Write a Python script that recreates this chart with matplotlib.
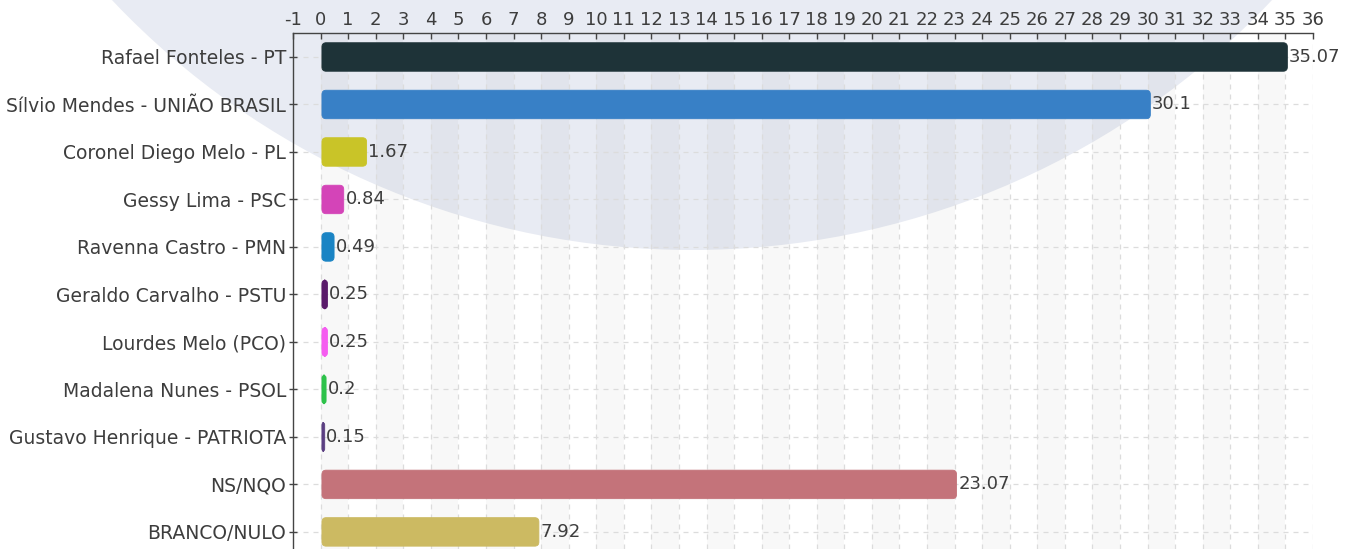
import matplotlib
matplotlib.use("Agg")
import matplotlib.pyplot as plt
from matplotlib.patches import FancyBboxPatch, Circle

categories = ["Rafael Fonteles - PT", "Sílvio Mendes - UNIÃO BRASIL", "Coronel Diego Melo - PL",
              "Gessy Lima - PSC", "Ravenna Castro - PMN", "Geraldo Carvalho - PSTU",
              "Lourdes Melo (PCO)", "Madalena Nunes - PSOL", "Gustavo Henrique - PATRIOTA",
              "NS/NQO", "BRANCO/NULO"]
values = [35.07, 30.1, 1.67, 0.84, 0.49, 0.25, 0.25, 0.2, 0.15, 23.07, 7.92]
value_labels = ["35.07", "30.1", "1.67", "0.84", "0.49", "0.25", "0.25", "0.2", "0.15", "23.07", "7.92"]
colors = ["#1E3338", "#3880C6", "#C9C428", "#D444B8", "#1A84C4", "#5A1A6A",
          "#F55CF0", "#2DC24A", "#5B3F82", "#C4737A", "#CCBA62"]
x_ticks = list(range(-1, 37))

W, H = 1355, 549
fig = plt.figure(figsize=(W / 100, H / 100), dpi=100)
fig.patch.set_facecolor("white")

# decorative background watermark circle
bg = fig.add_axes([0, 0, 1, 1], zorder=0)
bg.set_xlim(0, W)
bg.set_ylim(H, 0)
bg.axis("off")
bg.add_patch(Circle((692, -548), 798, color="#E8EBF3", lw=0))

ax = fig.add_axes([293 / W, 0, (1313 - 293) / W, (H - 33) / H], zorder=1)
ax.set_facecolor("none")

font = "DejaVu Sans"
fw = "normal"
txt_color = "#3d3d3d"
fs_tick = 13
fs_cat = 13.5

y = list(range(len(categories)))
ax.set_xlim(-1, 36)
ax.set_ylim(len(categories) - 1 + 0.36, -0.505)

# alternating vertical bands
for k in range(0, 36, 2):
    ax.axvspan(k, k + 1, color="black", alpha=0.027, lw=0, zorder=0)

# grid lines
for xv in range(0, 37):
    ax.axvline(xv, color="#dcdcdc", lw=0.9, ls=(0, (4, 4)), zorder=0.5)
for yv in y:
    ax.axhline(yv, color="#dcdcdc", lw=0.9, ls=(0, (4, 4)), zorder=0.5)

bars = ax.barh(y, values, height=0.6, color=colors)
ux = 1 / 27.57
uy = 1 / 47.5
asp = uy / ux
for b, c in zip(bars, colors):
    b.set_visible(False)
    w = b.get_width()
    hgt = b.get_height()
    r = min(0.15, w / 2)
    p = FancyBboxPatch((b.get_x() + 0.05, b.get_y()), max(w - 0.05, 0.08), hgt,
                       boxstyle=f"round,pad=0,rounding_size={r}",
                       mutation_aspect=asp, facecolor=c, edgecolor=c, lw=0.6, zorder=2)
    ax.add_patch(p)

for yi, v, lab in zip(y, values, value_labels):
    ax.text(v + 0.06, yi, lab, va="center", ha="left", fontsize=fs_tick,
            family=font, fontweight=fw, color=txt_color, zorder=3)

ax.xaxis.tick_top()
ax.set_xticks(x_ticks)
ax.set_xticklabels([str(t) for t in x_ticks], fontsize=fs_tick, family=font,
                   fontweight=fw, color=txt_color)
ax.tick_params(axis="x", direction="in", length=4, width=1, color="#444", pad=3)
ax.set_yticks(y)
ax.set_yticklabels(categories, fontsize=fs_cat, family=font, fontweight=fw, color=txt_color)
ax.tick_params(axis="y", direction="inout", length=6, width=1, color="#444", pad=2)

for s in ["right", "bottom"]:
    ax.spines[s].set_visible(False)
for s in ["left", "top"]:
    ax.spines[s].set_color("#444")
    ax.spines[s].set_linewidth(1)

fig.savefig("out.png", dpi=100)
